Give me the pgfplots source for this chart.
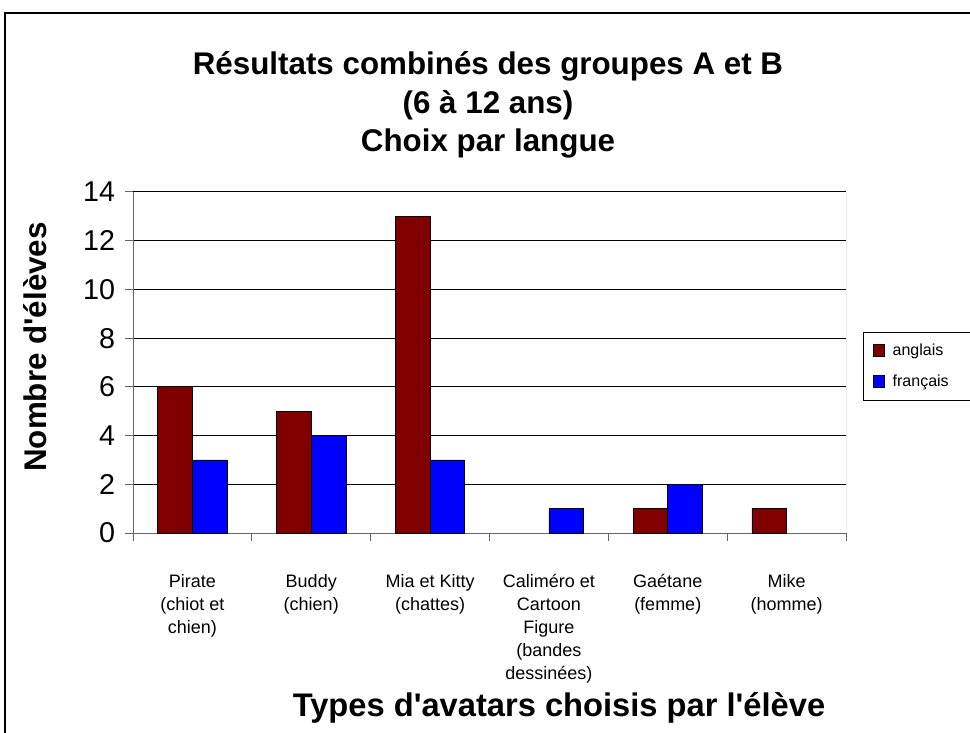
\documentclass[border=0pt]{standalone}
\usepackage{pgfplots}
\pgfplotsset{compat=1.18}
\usepackage{fontspec}
\setmainfont{Liberation Sans}[Ligatures=TeXOff]
\definecolor{ang}{HTML}{800000}
\definecolor{fra}{HTML}{0000FF}
\begin{document}
\begin{tikzpicture}[x=0.75pt,y=0.75pt]
\useasboundingbox (0,0) rectangle (970,732);
\draw[black,line width=0.9pt] (5,-5) -- (5,719) -- (980,719);
\node[font=\bfseries\fontsize{23.5}{28}\selectfont,anchor=base] at (488,657) {Résultats combinés des groupes A et B};
\node[font=\bfseries\fontsize{23.5}{28}\selectfont,anchor=base] at (488,618) {(6 à 12 ans)};
\node[font=\bfseries\fontsize{23.5}{28}\selectfont,anchor=base] at (488,580) {Choix par langue};
\node[font=\bfseries\fontsize{23.5}{28}\selectfont,rotate=90,anchor=base] at (46,385) {Nombre d'élèves};
\node[font=\bfseries\fontsize{24.5}{28}\selectfont,anchor=base] at (559,16) {Types d'avatars choisis par l'élève};
\begin{axis}[
  at={(99.75pt,149.25pt)}, anchor=south west,
  scale only axis, width=534.75pt, height=255.75pt,
  ybar=0pt, bar width=26pt,
  xmin=-0.5, xmax=5.5, ymin=0, ymax=14,
  axis x line*=bottom, axis y line*=left,
  axis line style={draw=gray!80!black, line width=0.75pt, -},
  xtick={0,1,2,3,4,5},
  xticklabels={{Pirate\\(chiot et\\chien)},{Buddy\\(chien)},{Mia et Kitty\\(chattes)},{Caliméro et\\Cartoon\\Figure\\(bandes\\dessinées)},{Gaétane\\(femme)},{Mike\\(homme)}},
  xticklabel style={align=center, font=\fontsize{13.5}{17.25}\selectfont, yshift=-21.75pt, anchor=north},
  major x tick style={draw=none},
  minor xtick={-0.5,0.5,1.5,2.5,3.5,4.5,5.5},
  minor x tick style={draw=gray!80!black, line width=0.75pt},
  minor tick length=6pt,
  xtick pos=bottom, xtick align=outside,
  ytick={0,2,...,14},
  ytick pos=left, ytick align=outside,
  major tick length=6pt,
  y tick style={draw=gray!80!black, line width=0.75pt},
  yticklabel style={font=\fontsize{21.5}{24}\selectfont, xshift=-4pt},
  /pgf/number format/assume math mode=true,
  ymajorgrids, grid style={black, line width=0.75pt},
  legend style={at={(axis description cs:1.0238,0.5906)}, anchor=north west,
    draw=black, line width=0.6pt, font=\fontsize{12}{14}\selectfont,
    inner xsep=7pt, inner ysep=7pt, row sep=9pt, cells={anchor=west},
    /tikz/every odd column/.append style={column sep=4pt}},
  legend image code/.code={\draw[#1, draw=black, line width=0.5pt] (0pt,-4pt) rectangle (8.5pt,4.5pt);},
]
\addplot[fill=ang, draw=black, line width=0.6pt] coordinates {(0,6) (1,5) (2,13) (4,1) (5,1)};
\addplot[fill=fra, draw=black, line width=0.6pt] coordinates {(0,3) (1,4) (2,3) (3,1) (4,2)};
\legend{anglais, français\rule{16pt}{0pt}}
\draw[gray!80!black, line width=0.75pt] (rel axis cs:1,0) -- (rel axis cs:1,1);
\end{axis}
\end{tikzpicture}
\end{document}
